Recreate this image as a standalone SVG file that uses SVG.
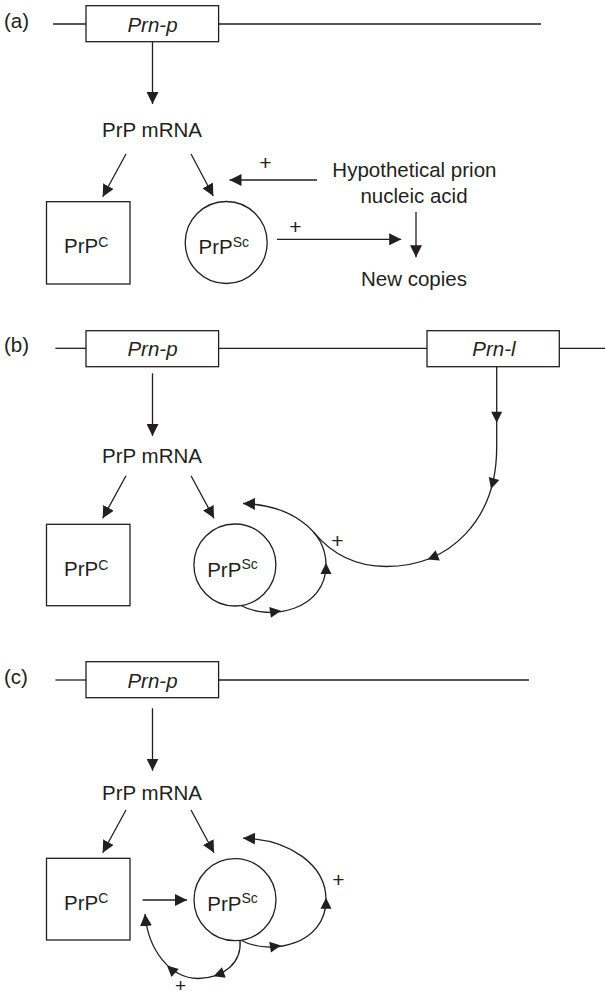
<svg xmlns="http://www.w3.org/2000/svg" xmlns:xlink="http://www.w3.org/1999/xlink" width="605" height="997" viewBox="0 0 605 997">
<style>
  text { font-family: "Liberation Sans", Arial, Helvetica, sans-serif; font-size: 20.5px; fill: #231f20; }
  .it { font-style: italic; }
  .sup { font-size: 14px; }
  .plus { font-size: 21px; text-anchor: middle; }
  .mid { text-anchor: middle; }
  .ln { stroke: #231f20; stroke-width: 1.3; fill: none; }
  .box { stroke: #231f20; stroke-width: 1.3; fill: #ffffff; }
  .arr { stroke: #231f20; stroke-width: 1.3; fill: none; marker-end: url(#ah-m); }
  .head { fill: #231f20; }
</style>
<defs>
  <marker id="ah-m" markerUnits="userSpaceOnUse" markerWidth="12" markerHeight="12" viewBox="0 0 11 11" refX="11" refY="5.5" orient="auto">
    <path d="M0,0 L11,5.5 L0,11 Z" fill="#231f20"/>
  </marker>
  <path id="ah" d="M0,0 L-11,-5.5 L-11,5.5 Z"/>
</defs>
<rect width="605" height="997" fill="#ffffff"/>

<!-- Panel labels -->
<g id="labels">
  <text x="4" y="28">(a)</text>
  <text x="4" y="352">(b)</text>
  <text x="4" y="684">(c)</text>
</g>

<!-- Connectors -->
<g id="connectors">
  <!-- (a) -->
  <line class="ln" x1="53" y1="24" x2="86" y2="24"/>
  <line class="ln" x1="218.6" y1="24" x2="541" y2="24"/>
  <line class="arr" x1="152.5" y1="41.7" x2="152.5" y2="104"/>
  <line class="arr" x1="126" y1="154" x2="102.7" y2="196.7"/>
  <line class="arr" x1="191" y1="154" x2="213.3" y2="196"/>
  <line class="arr" x1="317" y1="180" x2="229.5" y2="180"/>
  <line class="arr" x1="277" y1="239.3" x2="401.2" y2="239.3"/>
  <line class="arr" x1="416" y1="212" x2="416" y2="257.3"/>

  <!-- (b) -->
  <line class="ln" x1="55.4" y1="348.3" x2="86" y2="348.3"/>
  <line class="ln" x1="218.6" y1="348.3" x2="427" y2="348.3"/>
  <line class="ln" x1="559.3" y1="348.3" x2="605" y2="348.3"/>
  <line class="arr" x1="152.5" y1="373.3" x2="152.5" y2="436"/>
  <line class="arr" x1="126" y1="475.7" x2="102.7" y2="518.3"/>
  <line class="arr" x1="191" y1="475.7" x2="214" y2="518.3"/>
  <path class="ln" d="M496.7,366.7 L496.7,447 C496.7,520 450,566.5 386,566.5 C355,566.5 331,553 313.8,532.4"/>
  <path class="arr" d="M240,605 C270,622 326,610 326,565 C326,530 290,505 243,503.5"/>
  <use href="#ah" class="head" transform="translate(496.7,422.7) rotate(90)"/>
  <use href="#ah" class="head" transform="translate(491,489) rotate(106)"/>
  <use href="#ah" class="head" transform="translate(427.5,559.5) rotate(158)"/>
  <use href="#ah" class="head" transform="translate(281,610.8) rotate(-8.5)"/>
  <use href="#ah" class="head" transform="translate(326,563) rotate(-90)"/>

  <!-- (c) -->
  <line class="ln" x1="55.4" y1="680" x2="86" y2="680"/>
  <line class="ln" x1="218.6" y1="680" x2="529" y2="680"/>
  <line class="arr" x1="152.5" y1="708.3" x2="152.5" y2="770.7"/>
  <line class="arr" x1="126" y1="810" x2="102.7" y2="852.7"/>
  <line class="arr" x1="191" y1="810" x2="214" y2="852.7"/>
  <line class="arr" x1="142.6" y1="900" x2="187" y2="900"/>
  <path class="arr" d="M240,939.7 C270,956.7 326,944.7 326,899.7 C326,864.7 290,839.7 243,838.2"/>
  <use href="#ah" class="head" transform="translate(281,945.5) rotate(-8.5)"/>
  <use href="#ah" class="head" transform="translate(326,897.7) rotate(-90)"/>
  <path class="arr" d="M240,940 C242,962 225,978 198,978.5 C170,978 148,950 145,914"/>
  <use href="#ah" class="head" transform="translate(213.5,976.3) rotate(160)"/>
  <use href="#ah" class="head" transform="translate(167,965.5) rotate(-137.5)"/>
</g>

<!-- Plus signs -->
<g id="plus-signs">
  <text class="plus" x="265.5" y="170.2">+</text>
  <text class="plus" x="295.5" y="233.6">+</text>
  <text class="plus" x="337.5" y="548.2">+</text>
  <text class="plus" x="338.5" y="886.8">+</text>
  <text class="plus" x="180.5" y="992.3" style="font-size:19px">+</text>
</g>

<!-- Panel (a) nodes -->
<g id="a-prnp">
  <rect class="box" x="86" y="5.7" width="132.6" height="36"/>
  <text class="it mid" x="152.5" y="31.7">Prn-p</text>
</g>
<g id="a-mrna">
  <text class="mid" x="152" y="136.7">PrP mRNA</text>
</g>
<g id="a-prpc">
  <rect class="box" x="46.5" y="201.7" width="83.5" height="82.3"/>
  <text x="64" y="253.3">PrP<tspan class="sup" y="246.7">C</tspan></text>
</g>
<g id="a-prpsc">
  <circle class="box" cx="226.2" cy="242.5" r="41"/>
  <text x="198.5" y="254">PrP<tspan class="sup" y="246.5">Sc</tspan></text>
</g>
<g id="a-nucleic">
  <text class="mid" x="414.4" y="176.7">Hypothetical prion</text>
  <text class="mid" x="414" y="203">nucleic acid</text>
</g>
<g id="a-copies">
  <text class="mid" x="414" y="286">New copies</text>
</g>

<!-- Panel (b) nodes -->
<g id="b-prnp">
  <rect class="box" x="86" y="330.7" width="132.6" height="36"/>
  <text class="it mid" x="152.5" y="356">Prn-p</text>
</g>
<g id="b-prnl">
  <rect class="box" x="427" y="330.7" width="132.3" height="36"/>
  <text class="it mid" x="494" y="356">Prn-l</text>
</g>
<g id="b-mrna">
  <text class="mid" x="152" y="462.7">PrP mRNA</text>
</g>
<g id="b-prpc">
  <rect class="box" x="46.5" y="524.3" width="83.5" height="81.4"/>
  <text x="64" y="576.2">PrP<tspan class="sup" y="569.6">C</tspan></text>
</g>
<g id="b-prpsc">
  <circle class="box" cx="234.9" cy="565" r="41"/>
  <text x="207.2" y="576.5">PrP<tspan class="sup" y="569">Sc</tspan></text>
</g>

<!-- Panel (c) nodes -->
<g id="c-prnp">
  <rect class="box" x="86" y="661.7" width="132.6" height="36"/>
  <text class="it mid" x="152.5" y="687.7">Prn-p</text>
</g>
<g id="c-mrna">
  <text class="mid" x="152" y="800">PrP mRNA</text>
</g>
<g id="c-prpc">
  <rect class="box" x="46.5" y="858.3" width="83.5" height="81.7"/>
  <text x="64" y="910">PrP<tspan class="sup" y="903.4">C</tspan></text>
</g>
<g id="c-prpsc">
  <circle class="box" cx="235" cy="899.7" r="41"/>
  <text x="207.3" y="910.5">PrP<tspan class="sup" y="903">Sc</tspan></text>
</g>
</svg>
